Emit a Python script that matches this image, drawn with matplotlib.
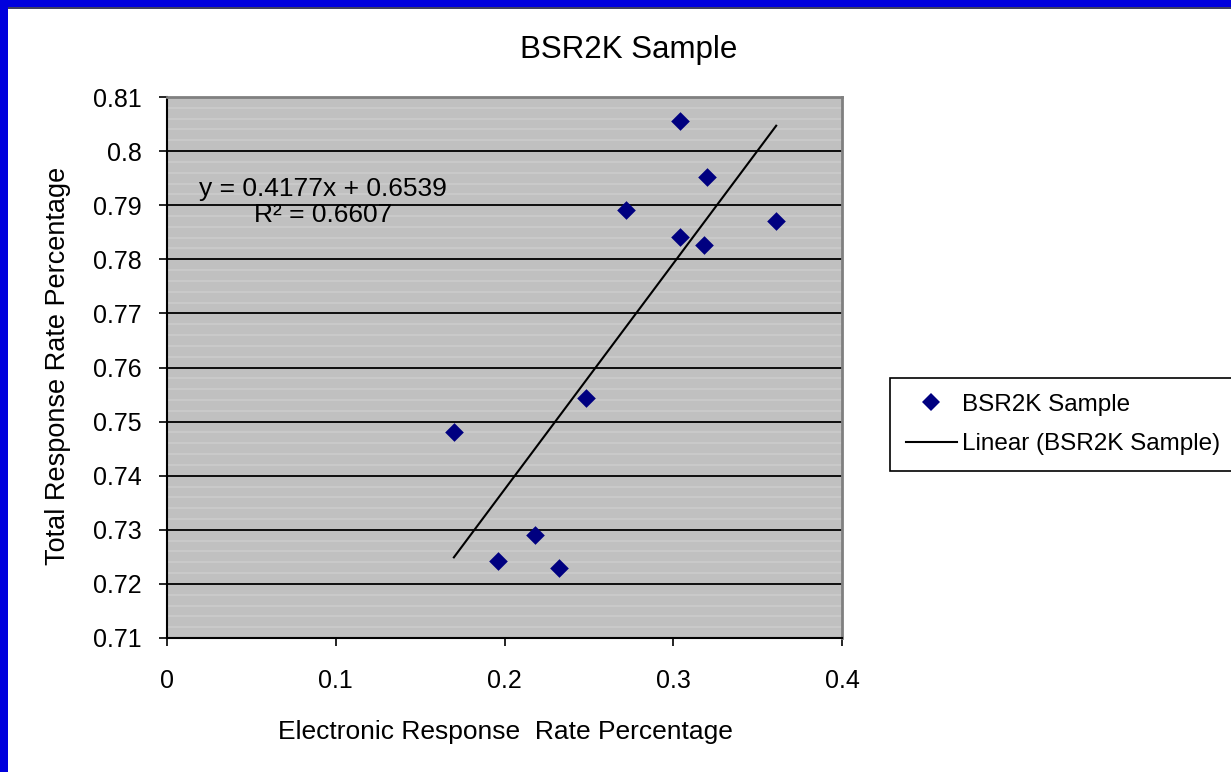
import matplotlib
matplotlib.use('Agg')
import matplotlib.pyplot as plt
from matplotlib.patches import Rectangle
from matplotlib.ticker import MultipleLocator, FuncFormatter
from matplotlib.lines import Line2D
import numpy as np

plt.rcParams['font.family'] = ['Liberation Sans', 'DejaVu Sans']

# electronic vs total response rates per site
electronic_rate = [0.304, 0.320, 0.272, 0.304, 0.318, 0.361, 0.248, 0.170, 0.218, 0.196, 0.232]
total_rate = [0.8056, 0.7952, 0.7891, 0.7841, 0.7826, 0.7871, 0.7544, 0.7481, 0.7290, 0.7242, 0.7229]

# linear trendline coefficients
slope = 0.4177
intercept = 0.6539
r_squared = 0.6607

series_name = 'BSR2K Sample'
trend_name = 'Linear (BSR2K Sample)'

fig = plt.figure(figsize=(12.31, 7.72), dpi=100)
W, H = 1231, 772

# blue frame on the top and left edges
fig.patches.append(Rectangle((0, 1 - 7 / H), 1, 7 / H, transform=fig.transFigure,
                             facecolor='#0000dd', edgecolor='none', zorder=0))
fig.patches.append(Rectangle((0, 1 - 8.5 / H), 1, 1.5 / H, transform=fig.transFigure,
                             facecolor='#404060', edgecolor='none', zorder=0))
fig.patches.append(Rectangle((0, 0), 8 / W, 1, transform=fig.transFigure,
                             facecolor='#0000dd', edgecolor='none', zorder=0))

ax = fig.add_axes([167 / W, 1 - 638 / H, 675 / W, 541 / H])
ax.set_facecolor('#c0c0c0')

ax.scatter(electronic_rate, total_rate, marker='D', s=9.5 ** 2, color='#000080',
           zorder=3, linewidths=0)

xs = np.array([min(electronic_rate), max(electronic_rate)])
ax.plot(xs, slope * xs + intercept, color='black', lw=1.5, zorder=2)

ax.set_xlim(0, 0.4)
ax.set_ylim(0.71, 0.81)
ax.xaxis.set_major_locator(MultipleLocator(0.1))
ax.yaxis.set_major_locator(MultipleLocator(0.01))
ax.yaxis.set_minor_locator(MultipleLocator(0.002))
fmt = FuncFormatter(lambda v, p: f'{round(v, 4):g}')
ax.xaxis.set_major_formatter(fmt)
ax.yaxis.set_major_formatter(fmt)

ax.grid(axis='y', which='major', color='black', lw=1.3, zorder=1)
ax.grid(axis='y', which='minor', color='#cacaca', lw=1.3, zorder=0.5)
ax.set_axisbelow(True)
ax.tick_params(axis='both', which='major', labelsize=18, length=6, width=1.2,
               direction='out', pad=12, color='black')
ax.tick_params(axis='x', which='major', pad=16)
ax.tick_params(axis='y', which='minor', length=0)

for side in ['top', 'right']:
    ax.spines[side].set_color('#808080')
    ax.spines[side].set_linewidth(2)
for side in ['left', 'bottom']:
    ax.spines[side].set_color('black')
    ax.spines[side].set_linewidth(1.5)

ax.text((323 - 167) / 675, (638 - 202) / 541,
        f'y = {slope}x + {intercept}\nR² = {r_squared}',
        transform=ax.transAxes, ha='center', va='center', fontsize=19,
        linespacing=1.1, multialignment='center')

fig.text(629 / W, 1 - 50 / H, 'BSR2K Sample', ha='center', va='center', fontsize=22.5)
fig.text(505 / W, 1 - 732 / H, 'Electronic Response  Rate Percentage',
         ha='center', va='center', fontsize=19)
fig.text(58 / W, 1 - 366 / H, 'Total Response Rate Percentage',
         ha='center', va='center', fontsize=19.5, rotation=90)

handles = [
    Line2D([], [], marker='D', color='#000080', ls='none', ms=9, mew=0),
    Line2D([], [], color='black', lw=1.5),
]
leg = fig.legend(handles, [series_name, trend_name], loc='upper left',
                 bbox_to_anchor=(890 / W, 1 - 378 / H), fontsize=17.5,
                 frameon=True, fancybox=False, edgecolor='black', framealpha=1,
                 handlelength=2.1, handletextpad=0.2, borderpad=0.65,
                 labelspacing=0.72, borderaxespad=0)
leg.get_frame().set_linewidth(1.2)

fig.savefig('out.png', dpi=100, facecolor='white')
